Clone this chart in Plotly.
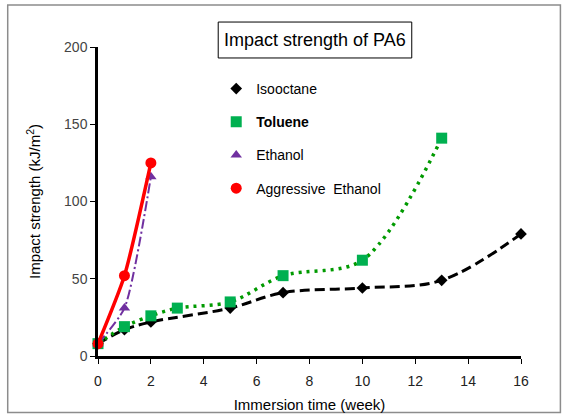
import plotly.graph_objects as go

# ---- data ----
iso_weeks = [0, 1, 2, 5, 7, 10, 13, 16]
iso_vals = [8, 17, 22, 31, 41, 44, 49, 79]

tol_weeks = [0, 1, 2, 3, 5, 7, 10, 13]
tol_vals = [8, 19, 26, 31, 35, 52, 62, 141]

eth_weeks = [0, 1, 2]
eth_vals = [8, 31, 116]

agg_weeks = [0, 1, 2]
agg_vals = [8, 52, 125]

x_ticks = [0, 2, 4, 6, 8, 10, 12, 14, 16]
y_ticks = [0, 50, 100, 150, 200]

FONT = "Liberation Sans, Arial, sans-serif"

series = [
    ("Isooctane", iso_weeks, iso_vals, dict(color="#000000", width=3, dash="10px,5px"), 1.0,
     dict(symbol="diamond", size=9, color="#000000")),
    ("<b>Toluene</b>", tol_weeks, tol_vals, dict(color="#009A00", width=3.5, dash="3px,5px"), 0.9,
     dict(symbol="square", size=11, color="#00B050")),
    ("Ethanol", eth_weeks, eth_vals, dict(color="#7030A0", width=2, dash="10px,3px,2px,3px"), 0.6,
     dict(symbol="triangle-up", size=10, color="#7030A0")),
    ("Aggressive  Ethanol", agg_weeks, agg_vals, dict(color="#FF0000", width=3.5), 0.6,
     dict(symbol="circle", size=11, color="#FF0000")),
]

fig = go.Figure()
for i, (name, xs, ys, line, sm, marker) in enumerate(series):
    fig.add_trace(go.Scatter(x=xs, y=ys, mode="lines", line=dict(shape="spline", smoothing=sm, **line),
                             showlegend=False, hoverinfo="skip", cliponaxis=False))
    fig.add_trace(go.Scatter(x=xs, y=ys, mode="markers", marker=marker, name=name,
                             legendgroup=f"g{i}", cliponaxis=False))

# plot area geometry (px)
L, R, T, B = 97.5, 521.5, 47, 356.5
W, H = R - L, B - T
px = lambda x: (x - L) / W
py = lambda y: (B - y) / H

fig.add_shape(type="rect", xref="paper", yref="paper",
              x0=px(7), x1=px(561), y0=py(413), y1=py(5),
              line=dict(color="#8c8c8c", width=1.5), layer="below")
fig.add_shape(type="rect", xref="paper", yref="paper",
              x0=px(218), x1=px(412), y0=py(58), y1=py(22),
              line=dict(color="#000000", width=1), layer="above")
fig.add_annotation(xref="paper", yref="paper", x=(px(218) + px(412)) / 2, y=(py(58) + py(22)) / 2,
                   text="Impact strength of PA6", showarrow=False,
                   font=dict(family=FONT, size=18, color="#000000"),
                   xanchor="center", yanchor="middle")

fig.update_layout(
    width=568, height=418,
    margin=dict(l=L, r=568 - R, t=T, b=418 - B, pad=0, autoexpand=False),
    paper_bgcolor="white", plot_bgcolor="white",
    font=dict(family=FONT, size=14, color="#000000"),
    showlegend=True,
    legend=dict(x=px(216), y=py(73), xanchor="left", yanchor="top",
                bgcolor="rgba(0,0,0,0)", tracegroupgap=12,
                font=dict(family=FONT, size=14, color="#000000")),
    xaxis=dict(range=[0, 16], tickvals=x_ticks, showgrid=False, zeroline=False,
               showline=True, linecolor="#000000", linewidth=2.5, automargin=False,
               ticks="outside", ticklen=5, tickcolor="#000000", tickwidth=1,
               ticklabelstandoff=5,
               tickfont=dict(family=FONT, size=14, color="#222222"),
               title=dict(text="Immersion time (week)", standoff=12,
                          font=dict(family=FONT, size=15, color="#000000"))),
    yaxis=dict(range=[0, 200], tickvals=y_ticks, showgrid=False, zeroline=False,
               showline=True, linecolor="#000000", linewidth=2.5, automargin=False,
               ticks="outside", ticklen=5, tickcolor="#000000", tickwidth=1,
               tickfont=dict(family=FONT, size=14, color="#444444"),
               title=dict(text="Impact strength (kJ/m<sup>2</sup>)", standoff=20,
                          font=dict(family=FONT, size=15, color="#000000"))),
)

fig.write_html("out.html", config={"displayModeBar": False},
               post_script="document.body.style.margin='0';")
